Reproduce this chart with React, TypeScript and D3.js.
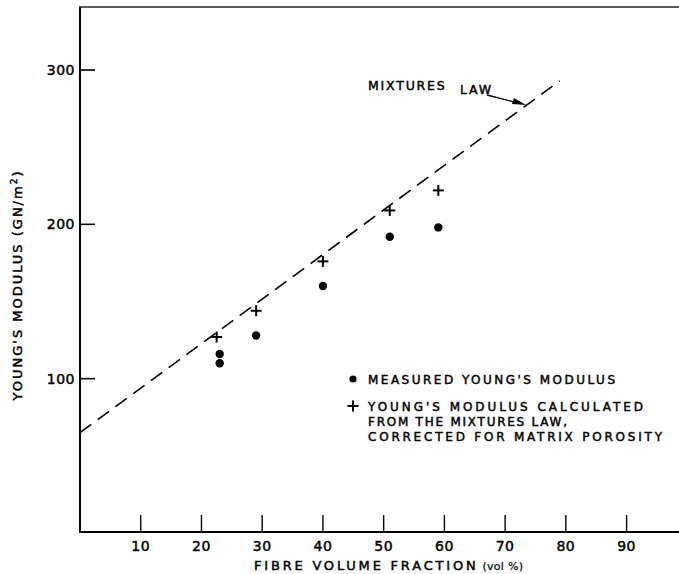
import * as d3 from 'd3'

// fibre volume fraction (vol %) and Young's modulus (GN/m2)
const measuredVf: number[] = [23, 23, 29, 40, 51, 59]
const measuredE: number[] = [116, 110, 128, 160, 192, 198]
const calcVf: number[] = [22.5, 29, 40, 51, 59]
const calcE: number[] = [127, 144, 176, 209, 222]
const lawVf: number[] = [0, 79]
const lawE: number[] = [65, 293]
const xTicks: number[] = [10, 20, 30, 40, 50, 60, 70, 80, 90]
const yTicks: number[] = [100, 200, 300]

const W = 679
const H = 574
const font = "'DejaVu Sans', sans-serif"

export default function App() {
  const x = d3.scaleLinear().domain([0, 98.3]).range([80, 677])
  const y = d3.scaleLinear().domain([0, 300]).range([533, 70])
  const bottom = 532
  const top = 7

  const law = d3.line<number>()
    .x((d) => x(d))
    .y((_, i) => y(lawE[i]))(lawVf)

  const cross = (cx: number, cy: number, key: string) => (
    <g key={key} stroke="#000" strokeWidth={2}>
      <line x1={cx - 5.5} x2={cx + 5.5} y1={cy} y2={cy} />
      <line x1={cx} x2={cx} y1={cy - 5.5} y2={cy + 5.5} />
    </g>
  )

  // thicken the lettering a little, like the stencilled original
  const ink = { stroke: '#000', strokeWidth: 0.45 }

  return (
    <svg width={W} height={H} style={{ position: 'absolute', left: 0, top: 0, background: '#fff' }}
      fontFamily={font}>
      {/* frame */}
      <line x1={80} x2={80} y1={top} y2={bottom} stroke="#000" strokeWidth={2} />
      <line x1={79} x2={679} y1={bottom} y2={bottom} stroke="#000" strokeWidth={1.8} />
      <line x1={79} x2={679} y1={top} y2={top} stroke="#222" strokeWidth={1.6} />

      {/* y ticks */}
      {yTicks.map((t) => (
        <g key={'y' + t}>
          <line x1={80} x2={95} y1={y(t)} y2={y(t)} stroke="#000" strokeWidth={1.6} />
          <text x={75} y={y(t)} dy="0.36em" textAnchor="end" fontSize={14} letterSpacing={0.5} {...ink}>{t}</text>
        </g>
      ))}

      {/* x ticks */}
      {xTicks.map((t) => (
        <g key={'x' + t}>
          <line x1={x(t)} x2={x(t)} y1={bottom} y2={bottom - 17} stroke="#000" strokeWidth={1.4} />
          <text x={x(t)} y={546} dy="0.36em" textAnchor="middle" fontSize={14} letterSpacing={0.5} {...ink}>{t}</text>
        </g>
      ))}

      {/* axis titles */}
      <text x={254} y={570} fontSize={13} letterSpacing={2.8} {...ink}>
        FIBRE  VOLUME  FRACTION
        <tspan fontSize={11} letterSpacing={0.3} dx={4} strokeWidth={0.2}>(vol %)</tspan>
      </text>
      <text transform="translate(22,285) rotate(-90)" textAnchor="middle" fontSize={13} letterSpacing={2} {...ink}>
        YOUNG'S  MODULUS  (GN/m<tspan fontSize={9} dy={-5}>2</tspan><tspan dy={5}>)</tspan>
      </text>

      {/* mixtures law */}
      <path d={law ?? ''} fill="none" stroke="#000" strokeWidth={1.6} strokeDasharray="14,8" />
      <text x={368} y={90} fontSize={12.5} letterSpacing={1.8} {...ink}>MIXTURES</text>
      <text x={460} y={94} fontSize={12.5} letterSpacing={1.8} {...ink}>LAW</text>
      <line x1={487} y1={95} x2={518} y2={103} stroke="#000" strokeWidth={1.3} />
      <path d="M526,105 L514,98 L512,104 Z" fill="#000" />

      {/* data */}
      {measuredVf.map((v, i) => (
        <circle key={'m' + i} cx={x(v)} cy={y(measuredE[i])} r={4.2} fill="#000" />
      ))}
      {calcVf.map((v, i) => cross(x(v), y(calcE[i]), 'c' + i))}

      {/* legend */}
      <circle cx={353} cy={379} r={3.6} fill="#000" />
      <text x={368} y={384} fontSize={12} textLength={247} lengthAdjust="spacing" {...ink}>MEASURED  YOUNG'S  MODULUS</text>
      {cross(353, 406, 'lg')}
      <text x={368} y={411} fontSize={12} textLength={275} lengthAdjust="spacing" {...ink}>YOUNG'S  MODULUS  CALCULATED</text>
      <text x={368} y={426} fontSize={12} textLength={199} lengthAdjust="spacing" {...ink}>FROM  THE  MIXTURES  LAW,</text>
      <text x={368} y={441} fontSize={12} textLength={294} lengthAdjust="spacing" {...ink}>CORRECTED  FOR  MATRIX  POROSITY</text>
    </svg>
  )
}
